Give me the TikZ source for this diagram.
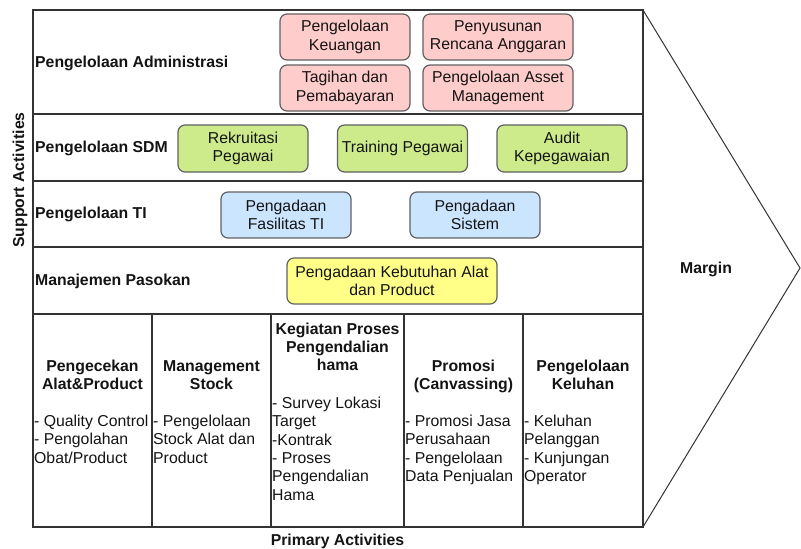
\documentclass[tikz,border=0pt]{standalone}
\usepackage{fontspec}
\setmainfont{Liberation Sans}
\definecolor{pinkfill}{HTML}{FFCCCC}
\definecolor{greenfill}{HTML}{CDEB8B}
\definecolor{bluefill}{HTML}{CCE5FF}
\definecolor{yellowfill}{HTML}{FFFF88}
\definecolor{frameline}{HTML}{333333}
\begin{document}
\begin{tikzpicture}[x=1pt,y=-1pt,
  every node/.style={font=\fontsize{15.8}{18.3}\selectfont, text=black!92, inner sep=0pt},
  box/.style={draw=black!62, line width=1.2pt, rounded corners=7pt, align=center},
  pinkbox/.style={box, fill=pinkfill, minimum height=46pt},
  greenbox/.style={box, fill=greenfill, minimum height=47pt, minimum width=130pt},
  bluebox/.style={box, fill=bluefill, minimum height=46pt, minimum width=130pt},
  yellowbox/.style={box, fill=yellowfill, minimum height=46pt, minimum width=210pt},
  rowlabel/.style={font=\fontsize{15.8}{18.3}\selectfont\bfseries, anchor=west},
  colhead/.style={font=\fontsize{15.8}{18.3}\selectfont\bfseries, align=center, anchor=north},
  colitems/.style={align=left, anchor=north west},
  frame/.style={draw=frameline, line width=1.4pt},
  tri/.style={draw=frameline, line width=1pt}
]
\useasboundingbox (0,0) rectangle (801,549);

% frame and grid
\coordinate (tl) at (33,10);
\coordinate (br) at (643,527);
\coordinate (tr) at (643,10);
\coordinate (tip) at (800,268);
\draw[frame] (tl) rectangle (br);
\foreach \yy in {114,181,247,314} \draw[frame] (33,\yy) -- (643,\yy);
\foreach \xx in {152,271,404,523} \draw[frame] (\xx,314) -- (\xx,527);
\draw[tri] (tr) -- (tip) -- (br);

% support rows
\node[rowlabel] (l1) at (35,63) {Pengelolaan Administrasi};
\node[rowlabel] (l2) at (35,148) {Pengelolaan SDM};
\node[rowlabel] (l3) at (35,214) {Pengelolaan TI};
\node[rowlabel] (l4) at (35,281) {Manajemen Pasokan};

\node[pinkbox, minimum width=130pt] (keu) at (345,37) {Pengelolaan\\Keuangan};
\node[pinkbox, minimum width=130pt] (tag) at (345,88) {Tagihan dan\\Pemabayaran};
\node[pinkbox, minimum width=150pt] (ang) at (498,37) {Penyusunan\\Rencana Anggaran};
\node[pinkbox, minimum width=150pt] (ast) at (498,88) {Pengelolaan Asset\\Management};

\node[greenbox] (rek) at (243,148.5) {Rekruitasi\\Pegawai};
\node[greenbox] (trn) at (402.5,148.5) {Training Pegawai};
\node[greenbox] (aud) at (562,148.5) {Audit\\Kepegawaian};

\node[bluebox] (fas) at (286,215) {Pengadaan\\Fasilitas TI};
\node[bluebox] (sis) at (475,215) {Pengadaan\\Sistem};

\node[yellowbox] (keb) at (392,281) {Pengadaan Kebutuhan Alat\\dan Product};

% primary activities
\node[colhead] (h1) at (92.5,360) {Pengecekan\\Alat\&Product};
\node[colitems] (i1) at (34,415) {- Quality Control\\- Pengolahan\\Obat/Product};

\node[colhead] (h2) at (211.5,360) {Management\\Stock};
\node[colitems] (i2) at (153,415) {- Pengelolaan\\Stock Alat dan\\Product};

\node[colhead] (h3) at (337.5,322.5) {Kegiatan Proses\\Pengendalian\\hama};
\node[colitems] (i3) at (272,397) {- Survey Lokasi\\Target\\-Kontrak\\- Proses\\Pengendalian\\Hama};

\node[colhead] (h4) at (463.5,360) {Promosi\\(Canvassing)};
\node[colitems] (i4) at (405,415) {- Promosi Jasa\\Perusahaan\\- Pengelolaan\\Data Penjualan};

\node[colhead] (h5) at (583,360) {Pengelolaan\\Keluhan};
\node[colitems] (i5) at (524,415) {- Keluhan\\Pelanggan\\- Kunjungan\\Operator};

% axis labels
\node[font=\fontsize{15.8}{18.3}\selectfont\bfseries, rotate=90] (sup) at (20,180) {Support Activities};
\node[font=\fontsize{15.8}{18.3}\selectfont\bfseries] (pri) at (337.5,541) {Primary Activities};
\node[font=\fontsize{15.8}{18.3}\selectfont\bfseries] (mar) at (706,269) {Margin};
\end{tikzpicture}
\end{document}
